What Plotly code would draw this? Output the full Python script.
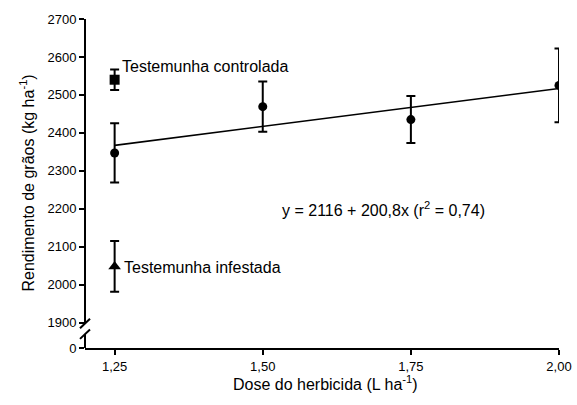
import plotly.graph_objects as go

# ---- data ----
dose = [1.25, 1.50, 1.75, 2.00]
yield_mean = [2347, 2469, 2435, 2525]
yield_err = [78, 66, 62, 97]

ctrl_x = [1.25]
ctrl_y = [2540]
ctrl_err = [27]

inf_x = [1.25]
inf_y = [2048]
inf_err = [67]

fit_x = [1.25, 2.00]
fit_y = [2367, 2517]

x_tickvals = [1.25, 1.50, 1.75, 2.00]
x_ticktext = ["1,25", "1,50", "1,75", "2,00"]

Y_ZERO_POS = 1833  # position on the broken axis where "0" is drawn
y_tickvals = [Y_ZERO_POS, 1900, 2000, 2100, 2200, 2300, 2400, 2500, 2600, 2700]
y_ticktext = ["0", "1900", "2000", "2100", "2200", "2300", "2400", "2500", "2600", "2700"]

FONT = "Liberation Sans, Arial, sans-serif"

fig = go.Figure()

eb = dict(type="data", thickness=2, width=4.5, color="black")

fig.add_trace(go.Scatter(x=fit_x, y=fit_y, mode="lines",
                         line=dict(color="black", width=1.6), showlegend=False))
fig.add_trace(go.Scatter(x=dose, y=yield_mean, mode="markers",
                         marker=dict(symbol="circle", size=9, color="black"),
                         error_y=dict(array=yield_err, **eb), showlegend=False))
fig.add_trace(go.Scatter(x=ctrl_x, y=ctrl_y, mode="markers",
                         marker=dict(symbol="square", size=10, color="black"),
                         error_y=dict(array=ctrl_err, **eb), showlegend=False))
fig.add_trace(go.Scatter(x=inf_x, y=inf_y, mode="markers",
                         marker=dict(symbol="triangle-up", size=11, color="black"),
                         error_y=dict(array=inf_err, **eb), showlegend=False))

# broken y axis line + break marks
dx = 5 / 474
shapes = [
    dict(type="line", xref="paper", yref="y", x0=0, x1=0, y0=1898, y1=2700,
         line=dict(color="black", width=2)),
    dict(type="line", xref="paper", yref="y", x0=0, x1=0, y0=Y_ZERO_POS, y1=1870,
         line=dict(color="black", width=2)),
    dict(type="line", xref="paper", yref="y", x0=-dx, x1=dx, y0=1885, y1=1910,
         line=dict(color="black", width=2)),
    dict(type="line", xref="paper", yref="y", x0=-dx, x1=dx, y0=1857, y1=1882,
         line=dict(color="black", width=2)),
]

annotations = [
    dict(x=1.25, y=2575, xref="x", yref="y", text="Testemunha controlada",
         showarrow=False, xanchor="left", yanchor="middle", xshift=5,
         font=dict(family=FONT, size=16, color="black")),
    dict(x=1.25, y=2045, xref="x", yref="y", text="Testemunha infestada",
         showarrow=False, xanchor="left", yanchor="middle", xshift=7,
         font=dict(family=FONT, size=16, color="black")),
    dict(x=1.878, y=2200, xref="x", yref="y",
         text="y = 2116 + 200,8x (r<sup>2</sup> = 0,74)",
         showarrow=False, xanchor="right", yanchor="middle",
         font=dict(family=FONT, size=16, color="black")),
    dict(x=0, y=0.5, xref="paper", yref="paper", xshift=-58,
         text="Rendimento de grãos (kg ha<sup>-1</sup>)", textangle=-90,
         showarrow=False, xanchor="center", yanchor="middle",
         font=dict(family=FONT, size=16, color="black")),
    dict(x=0.507, y=0, xref="paper", yref="paper", yshift=-35,
         text="Dose do herbicida (L ha<sup>-1</sup>)",
         showarrow=False, xanchor="center", yanchor="middle",
         font=dict(family=FONT, size=16, color="black")),
]

fig.update_layout(
    width=577, height=405,
    autosize=False,
    margin=dict(l=85, r=18, t=19, b=57, autoexpand=False),
    plot_bgcolor="white", paper_bgcolor="white",
    font=dict(family=FONT, size=13, color="black"),
    shapes=shapes, annotations=annotations,
    xaxis=dict(range=[1.2, 2.0], tickvals=x_tickvals, ticktext=x_ticktext,
               showline=True, linecolor="black", linewidth=2,
               ticks="outside", ticklen=5, tickwidth=2, tickcolor="black",
               showgrid=False, zeroline=False, automargin=False,
               tickfont=dict(family=FONT, size=13, color="black")),
    yaxis=dict(range=[Y_ZERO_POS, 2700], tickvals=y_tickvals, ticktext=y_ticktext,
               showline=False, ticks="outside", ticklen=5, tickwidth=2,
               tickcolor="black", showgrid=False, zeroline=False, automargin=False,
               tickfont=dict(family=FONT, size=13, color="black")),
)

fig.write_html("out.html",
               config={"displayModeBar": False, "responsive": False},
               post_script="document.body.style.margin='0';document.body.style.overflow='hidden';")
